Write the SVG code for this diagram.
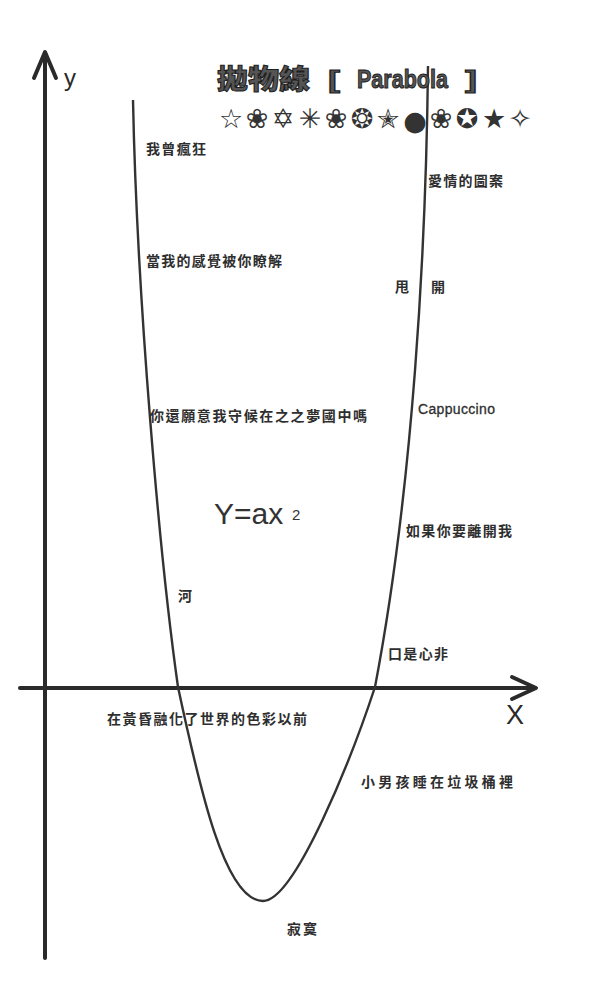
<svg xmlns="http://www.w3.org/2000/svg" width="600" height="988" viewBox="0 0 600 988">
<style>
.cjk{font-family:"Noto Sans CJK TC","Noto Sans CJK SC",sans-serif;font-weight:700;font-size:14px;fill:#2e2e2e}
.ax{fill:none;stroke:#2a2a2a;stroke-width:4;stroke-linecap:round;stroke-linejoin:round}
.curve{fill:none;stroke:#333;stroke-width:2.4}
.sym{font-family:"DejaVu Sans",sans-serif;font-size:27px;fill:#333;text-anchor:middle}
</style>
<rect width="600" height="988" fill="#fff"/>
<g id="axes">
  <line class="ax" x1="45" y1="54" x2="45" y2="958"/>
  <polyline class="ax" points="34,78 45,52 56,78"/>
  <line class="ax" x1="20" y1="688" x2="534" y2="688"/>
  <polyline class="ax" points="512,677 536,688 512,699"/>
  <text x="64" y="86" font-family="Liberation Sans, sans-serif" font-size="24" fill="#2a2a2a">y</text>
  <text x="506" y="724" font-family="Liberation Sans, sans-serif" font-size="27" fill="#2a2a2a">X</text>
</g>
<g id="parabola">
  <path class="curve" d="M133,100 C137,300 160,560 178,687 C200,790 225,901 263,901 C295,901 352,757 375,687 C413,487 426,250 428,66"/>
</g>
<g id="title">
  <text x="217" y="89" font-family="Noto Sans CJK TC, sans-serif" font-weight="900" font-size="27" fill="#555" stroke="#1e1e1e" stroke-width="1" textLength="93" lengthAdjust="spacingAndGlyphs">拋物線</text>
  <text x="328" y="88" font-family="Liberation Sans, sans-serif" font-weight="700" font-size="24" fill="#555" stroke="#1e1e1e" stroke-width="1" textLength="12" lengthAdjust="spacingAndGlyphs">[</text>
  <text x="357" y="88" font-family="Liberation Sans, sans-serif" font-weight="700" font-size="26" fill="#555" stroke="#1e1e1e" stroke-width="1" textLength="91" lengthAdjust="spacingAndGlyphs">Parabola</text>
  <text x="465" y="88" font-family="Liberation Sans, sans-serif" font-weight="700" font-size="24" fill="#555" stroke="#1e1e1e" stroke-width="1" textLength="12" lengthAdjust="spacingAndGlyphs">]</text>
</g>
<g id="symbols">
  <text class="sym" x="231" y="128">☆</text>
  <text class="sym" x="257" y="128">❀</text>
  <text class="sym" x="283" y="128">✡</text>
  <text class="sym" x="310" y="128">✳</text>
  <text class="sym" x="336" y="128">❀</text>
  <text class="sym" x="362" y="128">❂</text>
  <text class="sym" x="388" y="128">✭</text>
  <text class="sym" x="415" y="130" font-size="34">●</text>
  <text class="sym" x="441" y="128">❀</text>
  <text class="sym" x="467" y="128">✪</text>
  <text class="sym" x="494" y="128">★</text>
  <text class="sym" x="520" y="128">✧</text>
</g>
<g id="formula">
  <text x="214" y="524" font-family="Liberation Sans, sans-serif" font-size="30" fill="#333">Y=ax</text>
  <text x="292" y="520" font-family="Liberation Sans, sans-serif" font-size="15" fill="#333">2</text>
</g>
<g id="label-1"><text class="cjk" x="146" y="154" textLength="60">我曾瘋狂</text></g>
<g id="label-2"><text class="cjk" x="146" y="266" textLength="136">當我的感覺被你瞭解</text></g>
<g id="label-3"><text class="cjk" x="150" y="421" textLength="217">你還願意我守候在之之夢國中嗎</text></g>
<g id="label-4"><text class="cjk" x="178" y="601">河</text></g>
<g id="label-5"><text class="cjk" x="107" y="724" textLength="200">在黃昏融化了世界的色彩以前</text></g>
<g id="label-6"><text class="cjk" x="287" y="934" textLength="30">寂寞</text></g>
<g id="label-7"><text class="cjk" x="428" y="186" textLength="75">愛情的圖案</text></g>
<g id="label-8"><text class="cjk" x="395" y="292">甩</text><text class="cjk" x="431" y="292">開</text></g>
<g id="label-9"><text x="418" y="414" font-family="Liberation Sans, sans-serif" font-size="14" fill="#2e2e2e" stroke="#2e2e2e" stroke-width="0.3" textLength="77">Cappuccino</text></g>
<g id="label-10"><text class="cjk" x="406" y="536" textLength="106">如果你要離開我</text></g>
<g id="label-11"><text class="cjk" x="388" y="659" textLength="60">口是心非</text></g>
<g id="label-12"><text class="cjk" x="361" y="787" textLength="152">小男孩睡在垃圾桶裡</text></g>
</svg>
